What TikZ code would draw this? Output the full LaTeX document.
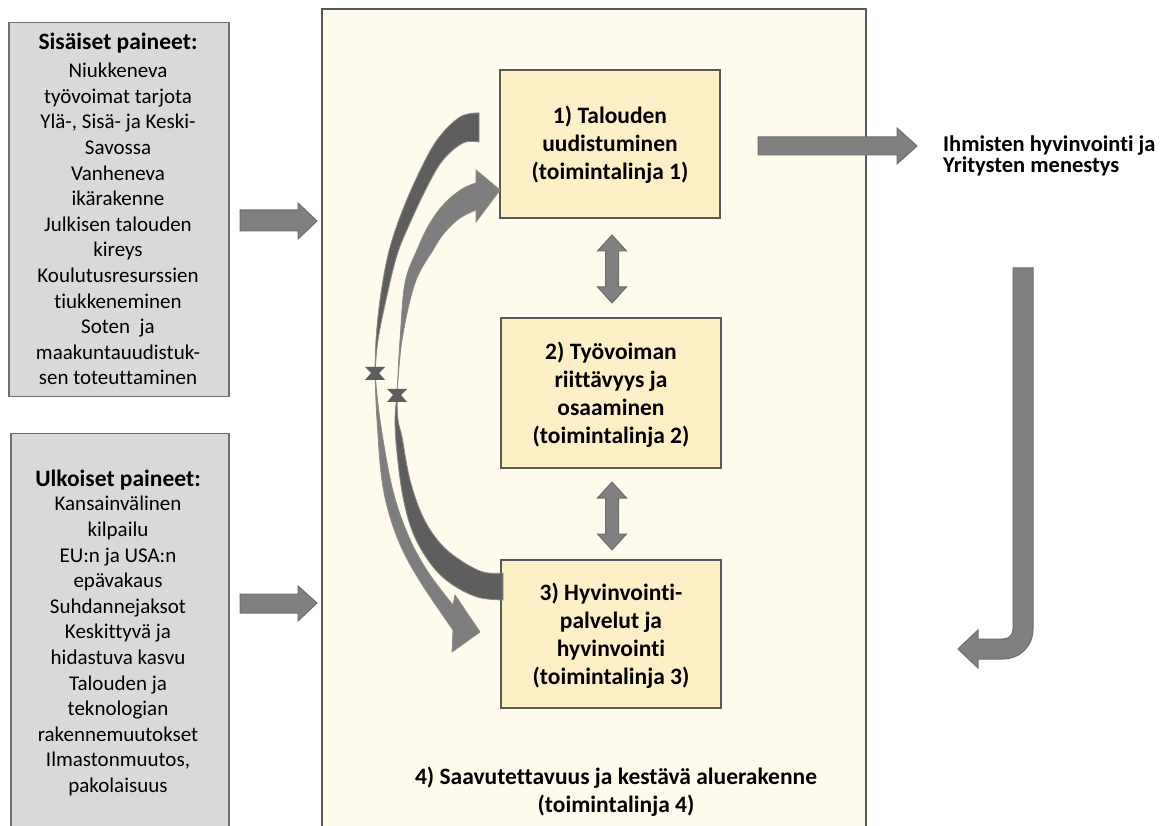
\documentclass[tikz,border=0pt]{standalone}
\usepackage{fontspec}
\setmainfont{Carlito}[Ligatures={NoCommon}]
\definecolor{boxgray}{HTML}{D9D9D9}
\definecolor{edgegray}{HTML}{6E6E6E}
\definecolor{cream}{HTML}{FEFAEC}
\definecolor{framegray}{HTML}{595959}
\definecolor{ybox}{HTML}{FDF0C7}
\definecolor{arrowgray}{HTML}{808080}
\definecolor{darkband}{HTML}{5E5E5E}
\definecolor{lightband}{HTML}{7E7E7E}
\definecolor{ribbonedge}{HTML}{8A8A8A}
\tikzset{
  pressurebox/.style={fill=boxgray, draw=edgegray, line width=1.5pt, inner sep=0pt, anchor=north west},
  framebox/.style={fill=cream, draw=framegray, line width=1.8pt, inner sep=0pt, anchor=north west},
  linebox/.style={fill=ybox, draw=framegray, line width=1.5pt, inner sep=0pt, minimum width=220pt, minimum height=148pt},
  blockarrow/.style={fill=arrowgray, draw=edgegray, line width=1pt, line join=miter},
  darkribbon/.style={fill=darkband, draw=ribbonedge, line width=0.8pt},
  lightribbon/.style={fill=lightband, draw=ribbonedge, line width=0.8pt},
  twist/.style={fill=darkband},
  headtext/.style={align=center, inner sep=0pt, font=\bfseries\fontsize{23.5}{28}\selectfont},
  bodytext/.style={align=center, inner sep=0pt, font=\fontsize{21}{25.6}\selectfont},
  boxtext/.style={align=center, inner sep=0pt, font=\bfseries\fontsize{23.5}{28}\selectfont},
  outtext/.style={align=left, inner sep=0pt, anchor=west, font=\bfseries\fontsize{22.5}{20.5}\selectfont},
}
\begin{document}
\begin{tikzpicture}[x=1pt,y=-1pt]
\useasboundingbox (0,0) rectangle (1163,826);
\fill[white] (0,0) rectangle (1163,826);

% left pressure boxes
\node[pressurebox, minimum width=220pt, minimum height=374pt] (inner) at (8,22) {};
\node[pressurebox, minimum width=218pt, minimum height=420pt] (outer) at (10,433) {};
\node[headtext] (innerhead) at (118,43) {Sisäiset paineet:};
\node[bodytext] (innerbody) at (118,224) {Niukkeneva\\työvoimat tarjota\\Ylä-, Sisä- ja Keski-\\Savossa\\Vanheneva\\ikärakenne\\Julkisen talouden\\kireys\\Koulutusresurssien\\tiukkeneminen\\Soten\ \ ja\\maakuntauudistuk-\\sen toteuttaminen};
\node[headtext] (outerhead) at (118,480) {Ulkoiset paineet:};
\node[bodytext] (outerbody) at (118,646) {Kansainvälinen\\kilpailu\\EU:n ja USA:n\\epävakaus\\Suhdannejaksot\\Keskittyvä ja\\hidastuva kasvu\\Talouden ja\\teknologian\\rakennemuutokset\\Ilmastonmuutos,\\pakolaisuus};

% main frame
\node[framebox, minimum width=544pt, minimum height=840pt] (frame) at (321,8) {};

% input arrows
\path[blockarrow] (240,210) -- (298,210) -- (298,203) -- (317,221) -- (298,239) -- (298,231) -- (240,231) -- cycle;
\path[blockarrow] (240,594) -- (298,594) -- (298,586) -- (317,603) -- (298,621) -- (298,613) -- (240,613) -- cycle;

% action line boxes
\node[linebox] (box1) at (610,144) {};
\node[linebox, minimum height=150pt] (box2) at (611,393) {};
\node[linebox, minimum height=148pt] (box3) at (611,634) {};
\node[boxtext] (t1) at (610,145) {1) Talouden\\uudistuminen\\(toimintalinja 1)};
\node[boxtext] (t2) at (611,395) {2) Työvoiman\\riittävyys ja\\osaaminen\\(toimintalinja 2)};
\node[boxtext] (t3) at (611,636) {3) Hyvinvointi-\\palvelut ja\\hyvinvointi\\(toimintalinja 3)};
\node[boxtext] (t4) at (616,792) {4) Saavutettavuus ja kestävä aluerakenne\\(toimintalinja 4)};

% double arrows between boxes
\path[blockarrow] (612,235) -- (626.5,251) -- (618.5,251) -- (618.5,287) -- (626.5,287) -- (612,303) -- (597.5,287) -- (605.5,287) -- (605.5,251) -- (597.5,251) -- cycle;
\path[blockarrow] (612,482) -- (626.5,498) -- (618.5,498) -- (618.5,534) -- (626.5,534) -- (612,550) -- (597.5,534) -- (605.5,534) -- (605.5,498) -- (597.5,498) -- cycle;

% curved ribbon arrows
\path[darkribbon] plot[smooth, tension=0.6] coordinates {(479,113) (460,117) (437,140) (417,177) (400,217) (388,255) (380,300) (376,340) (375,373)}
  -- plot[smooth, tension=0.6] coordinates {(375,373) (378,340) (386,300) (397,255) (410,223) (427,187) (443,160) (463,143) (479,142)} -- cycle;
\path[darkribbon] plot[smooth, tension=0.6] coordinates {(397,395) (395,420) (397,453) (403,497) (413,533) (430,563) (450,583) (477,597) (503,600)}
  -- (503,573) -- plot[smooth, tension=0.6] coordinates {(503,573) (483,572) (460,560) (440,543) (423,517) (410,480) (402,437) (398,420) (397,395)} -- cycle;
\path[lightribbon] plot[smooth, tension=0.6] coordinates {(375,373) (377,420) (383,487) (397,537) (418,578) (453,630)}
  -- (452,652) -- (480,632) -- (455,595) -- (453,605)
  -- plot[smooth, tension=0.6] coordinates {(453,605) (428,572) (408,535) (392,487) (380,420) (375,373)} -- cycle;
\path[lightribbon] plot[smooth, tension=0.6] coordinates {(397,395) (400,340) (405,283) (417,250) (430,223) (445,203) (462,189) (476,183)}
  -- (476,170) -- (500,190) -- (476,222) -- (476,210)
  -- plot[smooth, tension=0.6] coordinates {(476,210) (460,218) (445,232) (433,250) (415,283) (402,340) (397,395)} -- cycle;
\path[twist] (365,367) -- (385,367) -- (379,373) -- (385,380) -- (365,380) -- (371,373) -- cycle;
\path[twist] (387,389) -- (407,389) -- (401,395) -- (407,402) -- (387,402) -- (393,395) -- cycle;

% output arrow and text
\path[blockarrow] (758,137) -- (897,137) -- (897,128) -- (917,146) -- (897,164) -- (897,155) -- (758,155) -- cycle;
\node[outtext] (outcome) at (943,156) {Ihmisten hyvinvointi ja\\Yritysten menestys};

% feedback bent arrow
\path[blockarrow] (1033,268) -- (1033,629) .. controls (1033,646) and (1020,659) .. (1003,659) -- (978,659) -- (978,668) -- (958,649) -- (978,630) -- (978,639) -- (1003,639) .. controls (1009,639) and (1013,635) .. (1013,629) -- (1013,268) -- cycle;
\end{tikzpicture}
\end{document}
